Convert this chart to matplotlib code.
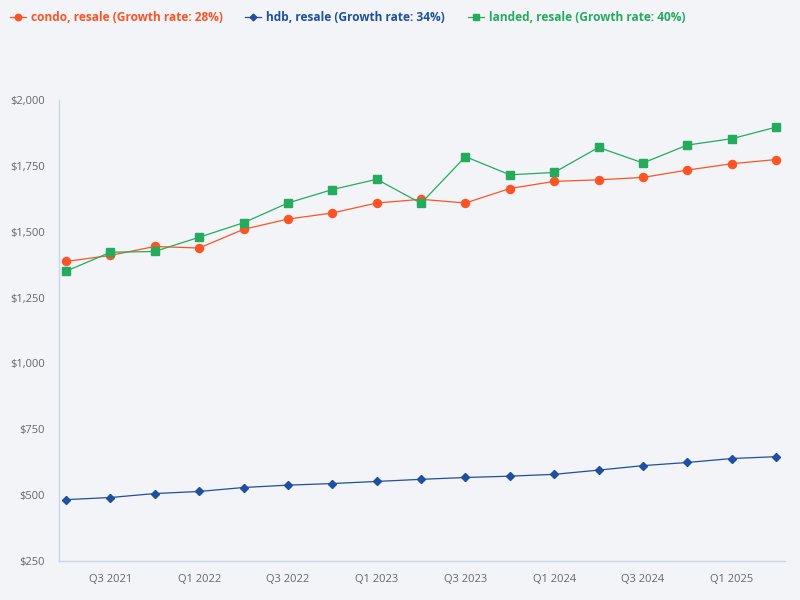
import matplotlib
matplotlib.use("Agg")
import matplotlib.pyplot as plt
from matplotlib.ticker import FuncFormatter, FixedLocator

plt.rcParams['font.family'] = ['Open Sans', 'DejaVu Sans']

quarters = ["Q2 2021", "Q3 2021", "Q4 2021", "Q1 2022", "Q2 2022", "Q3 2022", "Q4 2022",
            "Q1 2023", "Q2 2023", "Q3 2023", "Q4 2023", "Q1 2024", "Q2 2024", "Q3 2024",
            "Q4 2024", "Q1 2025", "Q2 2025"]
condo = [1387, 1410, 1444, 1438, 1509, 1548, 1571, 1609, 1623, 1609, 1664, 1691, 1697,
         1706, 1734, 1758, 1774]
hdb = [483, 491, 506, 514, 529, 538, 544, 552, 560, 567, 572, 579, 595, 612, 624, 639, 646]
landed = [1350, 1422, 1425, 1479, 1534, 1609, 1660, 1699, 1608, 1785, 1716, 1725, 1820,
          1761, 1829, 1853, 1897]
labels = ["condo, resale (Growth rate: 28%)", "hdb, resale (Growth rate: 34%)",
          "landed, resale (Growth rate: 40%)"]
yticks = [250, 500, 750, 1000, 1250, 1500, 1750, 2000]

bg = "#f2f4f7"
c_condo = "#fc5424"
c_hdb = "#1f4f9e"
c_landed = "#25ab5e"

fig = plt.figure(figsize=(8, 6), dpi=100, facecolor=bg)
ax = fig.add_axes([59/800, 1-561/600, (785-59)/800, (561-100)/600])
ax.set_facecolor(bg)

x = list(range(len(quarters)))
ax.plot(x, condo, color=c_condo, lw=0.9, marker='o', ms=5.8, label=labels[0])
ax.plot(x, hdb, color=c_hdb, lw=0.9, marker='D', ms=4.3, label=labels[1])
ax.plot(x, landed, color=c_landed, lw=0.9, marker='s', ms=5.8, label=labels[2])

ax.set_ylim(250, 2000)
ax.set_xlim(-0.158, 16.2)
ax.yaxis.set_major_locator(FixedLocator(yticks))
ax.yaxis.set_major_formatter(FuncFormatter(lambda v, p: f"${v:,.0f}"))
tick_idx = [i for i, q in enumerate(quarters) if q.startswith("Q3") or q.startswith("Q1")]
ax.set_xticks(tick_idx)
ax.set_xticklabels([quarters[i] for i in tick_idx])

for s in ['top', 'right']:
    ax.spines[s].set_visible(False)
for s in ['left', 'bottom']:
    ax.spines[s].set_color("#c9d5ea")
    ax.spines[s].set_linewidth(1)
ax.tick_params(axis='both', length=0, labelsize=8, labelcolor="#666666")
ax.tick_params(axis='x', pad=9)
ax.tick_params(axis='y', pad=10)

leg = fig.legend(loc='upper left', bbox_to_anchor=(0.0, 0.998), ncol=3, frameon=False,
                 prop={'weight': 'bold', 'size': 8.6}, handlelength=1.35, handletextpad=0.42,
                 columnspacing=1.9, labelcolor='linecolor', markerscale=0.8,
                 borderpad=0.3, borderaxespad=0.5)

fig.savefig("out.png", dpi=100, facecolor=bg)
